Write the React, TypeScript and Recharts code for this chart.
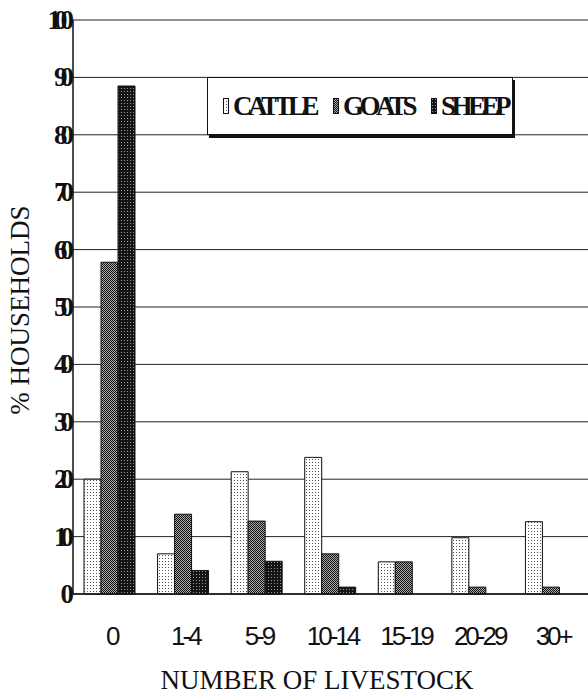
import { BarChart, Bar, XAxis, YAxis, CartesianGrid } from 'recharts';

const categories = ['0', '1-4', '5-9', '10-14', '15-19', '20-29', '30+'];
const cattle = [20, 7, 21.3, 23.8, 5.6, 9.8, 12.6];
const goats = [57.8, 13.9, 12.7, 7, 5.6, 1.2, 1.2];
const sheep = [88.5, 4.1, 5.7, 1.2, 0, 0, 0];
const yTicks = [0, 10, 20, 30, 40, 50, 60, 70, 80, 90, 100];

const series = [
  { key: 'cattle', name: 'CATTLE', fill: 'url(#patCattle)' },
  { key: 'goats', name: 'GOATS', fill: 'url(#patGoats)' },
  { key: 'sheep', name: 'SHEEP', fill: 'url(#patSheep)' },
];

const data = categories.map((c, i) => ({
  label: c,
  cattle: cattle[i],
  goats: goats[i],
  sheep: sheep[i],
}));

const YTick = ({ x, y, payload }: any) => (
  <text
    x={x - 6}
    y={y}
    dy={9}
    textAnchor="end"
    fontFamily="'Liberation Serif', serif"
    fontSize={27}
    fontWeight={600}
    letterSpacing={-7}
    fill="#111"
  >
    {payload.value}
  </text>
);

const XTick = ({ x, y, payload }: any) => (
  <text
    x={x + 2}
    y={y}
    dy={51}
    textAnchor="middle"
    fontFamily="'Liberation Sans', Arial, sans-serif"
    fontSize={26}
    letterSpacing={-3}
    fill="#111"
  >
    {payload.value}
  </text>
);

const LegendBox = () => (
  <div
    style={{
      position: 'absolute',
      left: 207,
      top: 77,
      width: 306,
      height: 58,
      border: '1.5px solid #111',
      boxShadow: '2px 3px 0 #111',
      background: '#fff',
      display: 'flex',
      alignItems: 'center',
      boxSizing: 'border-box',
      paddingLeft: 15,
      fontFamily: "'Liberation Serif', serif",
      fontWeight: 700,
      fontSize: 27,
      letterSpacing: -4.5,
      color: '#111',
    }}
  >
    {series.map((s, i) => (
      <span key={s.key} style={{ display: 'flex', alignItems: 'center', marginRight: i < 2 ? 18 : 0 }}>
        <svg width={6} height={16} style={{ marginRight: 4 }}>
          <rect x={0.5} y={0.5} width={5} height={15} fill={s.fill} stroke="#111" />
        </svg>
        {s.name}
      </span>
    ))}
  </div>
);

export default function App() {
  return (
    <div style={{ position: 'absolute', left: 0, top: 0, width: 588, height: 699, background: '#fff' }}>
      <BarChart
        width={588}
        height={699}
        data={data}
        margin={{ top: 20, right: 0, bottom: 0, left: 0 }}
        barCategoryGap={11}
        barGap={0}
      >
        <defs>
          <pattern id="patCattle" width={3} height={3} patternUnits="userSpaceOnUse">
            <rect width={3} height={3} fill="#fff" />
            <rect x={0} y={0} width={1} height={1} fill="#555" />
          </pattern>
          <pattern id="patGoats" width={2} height={2} patternUnits="userSpaceOnUse">
            <rect width={2} height={2} fill="#aaa" />
            <rect x={0} y={0} width={1} height={1} fill="#111" />
            <rect x={1} y={1} width={1} height={1} fill="#111" />
          </pattern>
          <pattern id="patSheep" width={3} height={3} patternUnits="userSpaceOnUse">
            <rect width={3} height={3} fill="#141414" />
            <rect x={1} y={1} width={1} height={1} fill="#999" />
          </pattern>
        </defs>
        <CartesianGrid horizontal vertical={false} stroke="#222" strokeWidth={1} />
        <XAxis
          dataKey="label"
          height={105}
          tickLine={false}
          tickSize={0}
          tickMargin={0}
          axisLine={{ stroke: '#111', strokeWidth: 1.5 }}
          tick={<XTick />}
          interval={0}
        />
        <YAxis
          width={73}
          domain={[0, 100]}
          ticks={yTicks}
          interval={0}
          tickLine={false}
          tickSize={0}
          tickMargin={0}
          axisLine={{ stroke: '#111', strokeWidth: 1.5 }}
          tick={<YTick />}
        />
        {series.map((s) => (
          <Bar
            key={s.key}
            dataKey={s.key}
            name={s.name}
            fill={s.fill}
            stroke="#111"
            strokeWidth={1}
            isAnimationActive={false}
          />
        ))}
      </BarChart>
      <LegendBox />
      <div
        style={{
          position: 'absolute',
          left: 20,
          top: 310,
          transform: 'translate(-50%, -50%) rotate(-90deg)',
          whiteSpace: 'nowrap',
          fontFamily: "'Liberation Serif', serif",
          fontSize: 27,
          color: '#111',
        }}
      >
        % HOUSEHOLDS
      </div>
      <div
        style={{
          position: 'absolute',
          left: 317,
          top: 680,
          transform: 'translate(-50%, -50%)',
          whiteSpace: 'nowrap',
          fontFamily: "'Liberation Serif', serif",
          fontSize: 27,
          color: '#111',
        }}
      >
        NUMBER OF LIVESTOCK
      </div>
    </div>
  );
}
